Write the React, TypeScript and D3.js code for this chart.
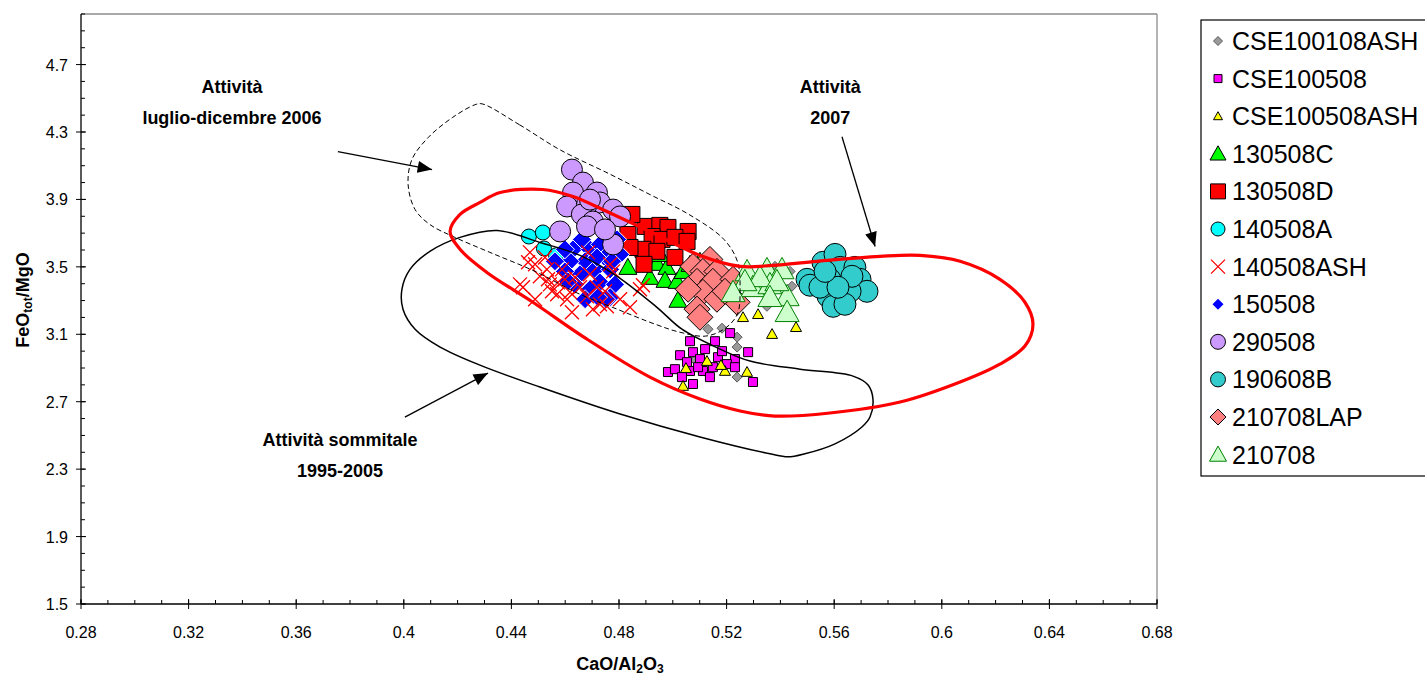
import React from "react";
import * as d3 from "d3";

type Pt = [number, number];

// axis ticks
const xTicks = [0.28, 0.32, 0.36, 0.4, 0.44, 0.48, 0.52, 0.56, 0.6, 0.64, 0.68];
const yTicks = [1.5, 1.9, 2.3, 2.7, 3.1, 3.5, 3.9, 4.3, 4.7];

// series values [CaO/Al2O3, FeOtot/MgO]
const cse100108ash: Pt[] = [
  [0.5131, 3.13], [0.5183, 3.136], [0.5239, 3.083], [0.5239, 3.024], [0.535, 3.266],
  [0.5443, 3.385], [0.538, 3.503], [0.5436, 3.473], [0.5239, 2.846], [0.5083, 2.947],
];
const cse100508: Pt[] = [
  [0.5064, 3.059], [0.5157, 3.059], [0.5213, 3.107], [0.5027, 2.976], [0.5075, 2.994],
  [0.512, 3.012], [0.5168, 2.964], [0.5231, 2.953], [0.528, 2.994], [0.4982, 2.876],
  [0.5008, 2.893], [0.5064, 2.882], [0.5112, 2.882], [0.5149, 2.905], [0.5201, 2.923],
  [0.5231, 2.905], [0.5075, 2.805], [0.5298, 2.817], [0.5053, 2.935], [0.5101, 2.953],
  [0.5138, 2.846], [0.5094, 2.905], [0.5183, 3.0], [0.5034, 2.846],
];
const cse100508ash: Pt[] = [
  [0.5261, 3.201], [0.5317, 3.219], [0.5369, 3.101], [0.5458, 3.142], [0.5127, 2.941],
  [0.5194, 2.882], [0.5276, 2.876], [0.5049, 2.899], [0.5038, 2.793], [0.5179, 2.917],
];
const s130508C: Pt[] = [
  [0.4833, 3.497], [0.4897, 3.533], [0.4941, 3.521], [0.4978, 3.497], [0.4915, 3.438],
  [0.4971, 3.42], [0.5016, 3.414], [0.5019, 3.302], [0.5038, 3.473], [0.5064, 3.515],
  [0.5101, 3.533], [0.4952, 3.574],
];
const s130508D: Pt[] = [
  [0.4897, 3.74], [0.4952, 3.746], [0.4982, 3.734], [0.5057, 3.71], [0.4923, 3.68],
  [0.496, 3.663], [0.5008, 3.675], [0.5053, 3.651], [0.4889, 3.604], [0.4941, 3.592],
  [0.5008, 3.556], [0.4893, 3.515], [0.4848, 3.811], [0.4833, 3.692], [0.4841, 3.615],
];
const s140508A: Pt[] = [[0.4465, 3.68], [0.4517, 3.704], [0.4521, 3.609], [0.4566, 3.568]];
const s140508ASH: Pt[] = [
  [0.4469, 3.586], [0.4462, 3.527], [0.4532, 3.485], [0.4432, 3.396], [0.4443, 3.379],
  [0.4551, 3.355], [0.4506, 3.444], [0.4573, 3.408], [0.4599, 3.426], [0.4618, 3.349],
  [0.4655, 3.379], [0.4681, 3.325], [0.4718, 3.379], [0.4729, 3.278], [0.4625, 3.231],
  [0.4841, 3.26], [0.4878, 3.367], [0.4767, 3.515], [0.4685, 3.586], [0.4536, 3.426],
  [0.457, 3.337], [0.4607, 3.308], [0.4703, 3.249], [0.4755, 3.266], [0.4778, 3.473],
  [0.4889, 3.391], [0.4488, 3.515], [0.4525, 3.556], [0.4588, 3.485], [0.4636, 3.438],
  [0.4692, 3.456], [0.4748, 3.355], [0.4804, 3.308], [0.4488, 3.308], [0.4543, 3.396],
];
const s150508: Pt[] = [
  [0.4636, 3.615], [0.4692, 3.604], [0.4729, 3.633], [0.4748, 3.556], [0.4674, 3.533],
  [0.4618, 3.533], [0.4711, 3.485], [0.4767, 3.485], [0.4655, 3.456], [0.4599, 3.473],
  [0.4729, 3.408], [0.4785, 3.396], [0.4692, 3.367], [0.4767, 3.32], [0.4804, 3.574],
  [0.4636, 3.396], [0.4562, 3.533], [0.4793, 3.663], [0.4752, 3.308], [0.4599, 3.604],
  [0.4662, 3.663], [0.4718, 3.556], [0.4774, 3.533], [0.461, 3.414], [0.4674, 3.308],
  [0.4722, 3.32],
];
const s290508: Pt[] = [
  [0.4625, 4.077], [0.4666, 4.0], [0.4629, 3.941], [0.4718, 3.941], [0.4729, 3.882],
  [0.4607, 3.858], [0.4681, 3.87], [0.4778, 3.84], [0.4804, 3.799], [0.4662, 3.811],
  [0.4703, 3.769], [0.4681, 3.74], [0.4581, 3.71], [0.4778, 3.633], [0.4748, 3.722],
  [0.4692, 3.899],
];
const s190608B: Pt[] = [
  [0.5499, 3.426], [0.5558, 3.527], [0.5603, 3.574], [0.5622, 3.497], [0.5677, 3.497],
  [0.5696, 3.426], [0.5722, 3.355], [0.5659, 3.355], [0.5577, 3.325], [0.551, 3.391],
  [0.5596, 3.266], [0.564, 3.278], [0.5584, 3.426], [0.5666, 3.444], [0.5547, 3.379],
  [0.5614, 3.379], [0.5566, 3.473],
];
const s210708LAP: Pt[] = [
  [0.5138, 3.544], [0.5075, 3.503], [0.5112, 3.473], [0.5164, 3.473], [0.509, 3.414],
  [0.5149, 3.414], [0.5224, 3.426], [0.5112, 3.349], [0.5164, 3.308], [0.509, 3.249],
  [0.5101, 3.201], [0.5239, 3.29], [0.5194, 3.355], [0.5057, 3.367],
];
const s210708: Pt[] = [
  [0.5276, 3.473], [0.535, 3.485], [0.5406, 3.485], [0.5298, 3.379], [0.5361, 3.396],
  [0.5425, 3.325], [0.5425, 3.231], [0.5324, 3.438], [0.5387, 3.414], [0.5268, 3.414],
  [0.5361, 3.32], [0.5224, 3.349],
];

// field outlines
const field2006: Pt[] = [
  [0.4291, 4.467], [0.443, 4.343], [0.458, 4.195], [0.477, 4.047], [0.4915, 3.929],
  [0.506, 3.811], [0.519, 3.663], [0.524, 3.533], [0.525, 3.367], [0.524, 3.219],
  [0.519, 3.13], [0.512, 3.089], [0.5027, 3.112], [0.4934, 3.16], [0.4785, 3.254],
  [0.4655, 3.337], [0.4488, 3.473], [0.432, 3.586], [0.419, 3.675], [0.4097, 3.751],
  [0.4042, 3.84], [0.4016, 3.988], [0.403, 4.136], [0.409, 4.266], [0.418, 4.385],
  [0.4265, 4.462],
];
const field1995: Pt[] = [
  [0.4347, 3.716], [0.4506, 3.645], [0.4655, 3.568], [0.4793, 3.444], [0.4941, 3.26],
  [0.5034, 3.13], [0.5176, 3.012], [0.5287, 2.941], [0.5473, 2.893], [0.567, 2.852],
  [0.5726, 2.799], [0.5744, 2.716], [0.5733, 2.609], [0.5703, 2.55], [0.5603, 2.45],
  [0.5491, 2.391], [0.5428, 2.373], [0.5361, 2.391], [0.5101, 2.491], [0.4804, 2.627],
  [0.4506, 2.787], [0.4283, 2.917], [0.4135, 3.024], [0.4042, 3.13], [0.3997, 3.249],
  [0.3993, 3.367], [0.4023, 3.485], [0.4097, 3.592], [0.4209, 3.675],
];
const field2007: Pt[] = [
  [0.4172, 3.71], [0.4209, 3.811], [0.4283, 3.882], [0.4358, 3.941], [0.4517, 3.959],
  [0.4629, 3.917], [0.4755, 3.828], [0.4915, 3.71], [0.5101, 3.568], [0.525, 3.503],
  [0.5373, 3.509], [0.5536, 3.533], [0.577, 3.562], [0.5919, 3.568], [0.6068, 3.533],
  [0.6216, 3.426], [0.6309, 3.29], [0.6339, 3.16], [0.6309, 3.03], [0.6216, 2.923],
  [0.6068, 2.817], [0.5845, 2.698], [0.5584, 2.633], [0.538, 2.615], [0.525, 2.645],
  [0.5101, 2.716], [0.4915, 2.846], [0.4681, 3.071], [0.448, 3.29], [0.4309, 3.467],
  [0.4209, 3.604],
];

// arrows: [from, to]
const arrows: [Pt, Pt][] = [
  [[0.3755, 4.183], [0.4105, 4.077]],
  [[0.5629, 4.272], [0.5752, 3.621]],
  [[0.4004, 2.609], [0.4313, 2.87]],
];

const labels: { lines: string[]; at: Pt }[] = [
  { lines: ["Attività", "luglio-dicembre 2006"], at: [0.3361, 4.533] },
  { lines: ["Attività", "2007"], at: [0.5585, 4.533] },
  { lines: ["Attività sommitale", "1995-2005"], at: [0.3763, 2.44] },
];

type Shape = "circle" | "square" | "diamond" | "triangle" | "x";
interface Series {
  name: string; data: Pt[]; shape: Shape; size: number; lsize: number;
  fill: string; stroke: string; sw?: number;
}

const series: Series[] = [
  { name: "CSE100108ASH", data: cse100108ash, shape: "diamond", size: 10, lsize: 9, fill: "#9a9a9a", stroke: "#5a5a5a" },
  { name: "CSE100508", data: cse100508, shape: "square", size: 9, lsize: 8, fill: "#ff00ff", stroke: "#000" },
  { name: "CSE100508ASH", data: cse100508ash, shape: "triangle", size: 11, lsize: 9, fill: "#ffff00", stroke: "#000" },
  { name: "130508C", data: s130508C, shape: "triangle", size: 18, lsize: 16, fill: "#00ff00", stroke: "#000" },
  { name: "130508D", data: s130508D, shape: "square", size: 16, lsize: 15, fill: "#ff0000", stroke: "#000" },
  { name: "140508A", data: s140508A, shape: "circle", size: 15, lsize: 14, fill: "#00ffff", stroke: "#000" },
  { name: "140508ASH", data: s140508ASH, shape: "x", size: 14, lsize: 14, fill: "none", stroke: "#ff0000", sw: 1.3 },
  { name: "150508", data: s150508, shape: "diamond", size: 19, lsize: 11, fill: "#0000ff", stroke: "#fff" },
  { name: "290508", data: s290508, shape: "circle", size: 21, lsize: 15, fill: "#cc99ff", stroke: "#000" },
  { name: "190608B", data: s190608B, shape: "circle", size: 22, lsize: 15, fill: "#33cccc", stroke: "#000" },
  { name: "210708LAP", data: s210708LAP, shape: "diamond", size: 26, lsize: 16, fill: "#ff8080", stroke: "#000" },
  { name: "210708", data: s210708, shape: "triangle", size: 24, lsize: 17, fill: "#ccffcc", stroke: "#008000" },
];

const drawOrder = ["CSE100108ASH", "CSE100508", "CSE100508ASH", "130508C", "130508D", "140508A",
  "150508", "140508ASH", "290508", "190608B", "210708LAP", "210708"];

function shapePath(shape: Shape, s: number): string {
  const h = s / 2;
  switch (shape) {
    case "circle":
      return d3.symbol(d3.symbolCircle, Math.PI * h * h)() as string;
    case "square":
      return `M${-h},${-h}h${s}v${s}h${-s}Z`;
    case "diamond":
      return `M0,${-h}L${h},0L0,${h}L${-h},0Z`;
    case "triangle":
      return `M0,${-h}L${h},${h * 0.78}L${-h},${h * 0.78}Z`;
    case "x":
      return `M${-h},${-h}L${h},${h}M${-h},${h}L${h},${-h}`;
  }
}

const FONT = "Arial, 'Liberation Sans', sans-serif";

export default function App() {
  const x = d3.scaleLinear().domain([0.28, 0.68]).range([81, 1157]);
  const y = d3.scaleLinear().domain([1.5, 5.0]).range([604, 14]);

  const xMinor = d3.range(0.28, 0.6801, 0.01).map((v) => +v.toFixed(2));
  const yMinor = d3.range(1.5, 5.001, 0.1).map((v) => +v.toFixed(1));

  const closed = d3.line<Pt>().x((d) => x(d[0])).y((d) => y(d[1])).curve(d3.curveCatmullRomClosed.alpha(0.5));

  const byName = new Map(series.map((s) => [s.name, s]));

  return (
    <div style={{ position: "absolute", left: 0, top: 0 }}>
      <svg width={1425} height={679} style={{ display: "block", fontFamily: FONT }}>
        <defs>
          <marker id="ah" viewBox="0 0 12 10" refX="12" refY="5" markerWidth="15" markerHeight="12"
            markerUnits="userSpaceOnUse" orient="auto">
            <path d="M0,0L12,5L0,10Z" fill="#000" />
          </marker>
        </defs>
        <rect width={1425} height={679} fill="#fff" />

        {/* frame */}
        <line x1={81} x2={1157} y1={14} y2={14} stroke="#8c8c8c" strokeWidth={1.3} />
        <line x1={1157} x2={1157} y1={14} y2={604} stroke="#8c8c8c" strokeWidth={1.3} />

        {/* markers */}
        {drawOrder.map((n) => {
          const s = byName.get(n)!;
          const p = shapePath(s.shape, s.size);
          return (
            <g key={n}>
              {s.data.map((d, i) => (
                <path key={i} d={p} transform={`translate(${x(d[0])},${y(d[1])})`}
                  fill={s.fill} stroke={s.stroke} strokeWidth={s.sw ?? 1} />
              ))}
            </g>
          );
        })}

        {/* fields */}
        <path d={closed(field2006) ?? ""} fill="none" stroke="#000" strokeWidth={1} strokeDasharray="5,3" />
        <path d={closed(field1995) ?? ""} fill="none" stroke="#000" strokeWidth={1.5} />
        <path d={closed(field2007) ?? ""} fill="none" stroke="#ff0000" strokeWidth={3.2} />

        {arrows.map(([a, b], i) => (
          <line key={i} x1={x(a[0])} y1={y(a[1])} x2={x(b[0])} y2={y(b[1])}
            stroke="#000" strokeWidth={1.3} markerEnd="url(#ah)" />
        ))}

        {labels.map((l, i) => (
          <text key={i} x={x(l.at[0])} y={y(l.at[1])} textAnchor="middle" fontWeight="bold" fontSize={18}>
            {l.lines.map((t, j) => (
              <tspan key={j} x={x(l.at[0])} dy={j === 0 ? 0 : 31}>{t}</tspan>
            ))}
          </text>
        ))}

        {/* axes */}
        <line x1={81} x2={1157} y1={604} y2={604} stroke="#000" strokeWidth={1.3} />
        <line x1={81} x2={81} y1={14} y2={604} stroke="#000" strokeWidth={1.3} />
        {xMinor.map((v) => (
          <line key={"xm" + v} x1={x(v)} x2={x(v)} y1={604} y2={600} stroke="#000" />
        ))}
        {yMinor.map((v) => (
          <line key={"ym" + v} x1={81} x2={85} y1={y(v)} y2={y(v)} stroke="#000" />
        ))}
        {xTicks.map((v) => (
          <g key={"xt" + v}>
            <line x1={x(v)} x2={x(v)} y1={599} y2={609} stroke="#000" />
            <text x={x(v)} y={638} textAnchor="middle" fontSize={16}>{String(v)}</text>
          </g>
        ))}
        {yTicks.map((v) => (
          <g key={"yt" + v}>
            <line x1={76} x2={86} y1={y(v)} y2={y(v)} stroke="#000" />
            <text x={68} y={y(v) + 6} textAnchor="end" fontSize={16}>{v.toFixed(1)}</text>
          </g>
        ))}

        <text x={620} y={670} textAnchor="middle" fontWeight="bold" fontSize={18}>
          CaO/Al<tspan fontSize={12} dy={3}>2</tspan><tspan dy={-3}>O</tspan><tspan fontSize={12} dy={3}>3</tspan>
        </text>
        <text transform="translate(29,300) rotate(-90)" textAnchor="middle" fontWeight="bold" fontSize={18}>
          FeO<tspan fontSize={12} dy={3}>tot</tspan><tspan dy={-3}>/MgO</tspan>
        </text>

        {/* legend */}
        <rect x={1201} y={20} width={260} height={456} fill="#fff" stroke="#000" strokeWidth={1.2} />
        {series.map((s, i) => {
          const cy = 41 + i * 37.6;
          return (
            <g key={"lg" + s.name}>
              <path d={shapePath(s.shape, s.lsize)} transform={`translate(1218,${cy})`}
                fill={s.fill} stroke={s.name === "150508" ? "none" : s.stroke} strokeWidth={s.sw ?? 1} />
              <text x={1232} y={cy + 9} fontSize={25}>{s.name}</text>
            </g>
          );
        })}
      </svg>
    </div>
  );
}
